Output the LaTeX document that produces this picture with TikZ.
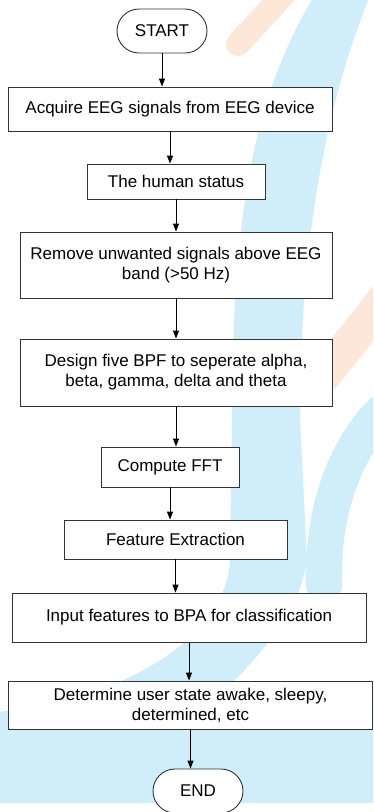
\documentclass[tikz,border=0pt]{standalone}
\usepackage{fontspec}
\setmainfont{Liberation Sans}
\usetikzlibrary{arrows.meta}
\definecolor{bgblue}{RGB}{207,238,250}
\definecolor{bgorange}{RGB}{252,231,216}

\begin{document}
\begin{tikzpicture}[x=1pt, y=-1pt,
  box/.style={draw=black!80, fill=white, line width=0.9pt, inner sep=0pt, align=center, font=\fontsize{17}{20}\selectfont},
  term/.style={box, rounded corners=22pt, minimum width=90pt, minimum height=44pt},
  arr/.style={line width=0.9pt, -{Triangle[length=8pt, width=6pt]}}]
\useasboundingbox (0,0) rectangle (373,812);
\clip (0,0) rectangle (373,812);
\fill[white] (0,0) rectangle (373,812);
\draw[bgorange, line width=24pt, line cap=round] (286,-8) -- (238,44);
\draw[bgorange, line width=34pt] (398,282) -- (322,378);
\fill[bgblue] (313,-2) .. controls (255,95) and (232,210) .. (232,420) -- (230,560)
  .. controls (226,640) and (120,700) .. (-2,712) -- (-2,803) -- (375,803) -- (375,690) -- (225,690)
  .. controls (265,650) and (300,610) .. (307,560) -- (300,420)
  .. controls (300,260) and (320,120) .. (369,-2) -- cycle;
\draw[bgblue, line width=36pt, line cap=round] (382,412) .. controls (340,455) and (322,520) .. (324,585);
\node[term] (1) at (162,31) {START};
\node[box, minimum width=324pt, minimum height=44pt] (2) at (170,109) {Acquire EEG signals from EEG device};
\node[box, minimum width=178pt, minimum height=35pt] (3) at (176,181.5) {The human status};
\node[box, minimum width=312pt, minimum height=66pt] (4) at (176,265) {Remove unwanted signals above EEG\\band (>50 Hz)};
\node[box, minimum width=312pt, minimum height=67pt] (5) at (176,372.5) {Design five BPF to seperate alpha,\\beta, gamma, delta and theta};
\node[box, minimum width=138pt, minimum height=40pt] (6) at (170,467) {Compute FFT};
\node[box, minimum width=223pt, minimum height=39pt] (7) at (175.5,539.5) {Feature Extraction};
\node[box, minimum width=354pt, minimum height=49pt] (8) at (189,617.5) {Input features to BPA for classification};
\node[box, minimum width=364pt, minimum height=48pt] (9) at (190.5,705) {Determine user state awake, sleepy,\\determined, etc};
\node[term] (10) at (198,791) {END};
\draw[arr] (1.south) -- (1.south |- 2.north);
\draw[arr] (2.south) -- (2.south |- 3.north);
\draw[arr] (3.south) -- (3.south |- 4.north);
\draw[arr] (4.south) -- (4.south |- 5.north);
\draw[arr] (5.south) -- (5.south |- 6.north);
\draw[arr] (6.south) -- (6.south |- 7.north);
\draw[arr] (7.south) -- (7.south |- 8.north);
\draw[arr] (8.south) -- (8.south |- 9.north);
\draw[arr] (9.south) -- (9.south |- 10.north);
\end{tikzpicture}
\end{document}
